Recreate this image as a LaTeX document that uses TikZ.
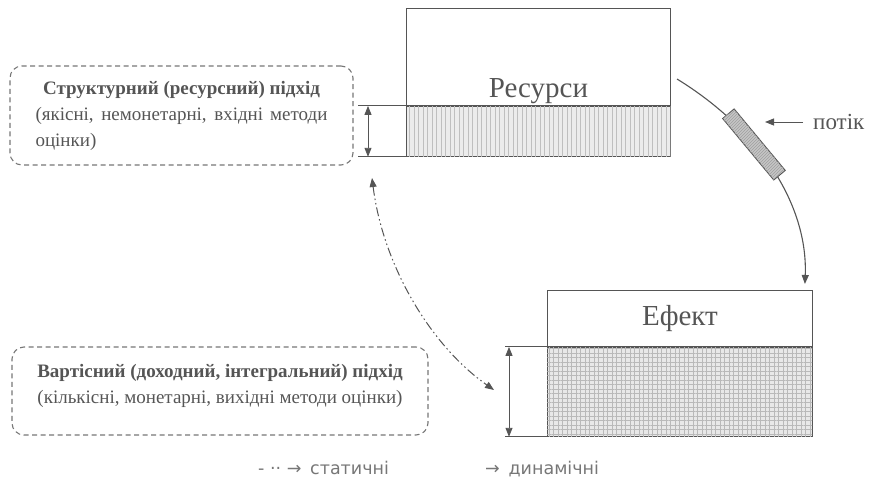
\documentclass[tikz,border=0pt]{standalone}
\usepackage{fontspec}
\setmainfont{Liberation Serif}
\newfontfamily\legendfont{DejaVu Sans}
\usepackage{tikz}
\usetikzlibrary{arrows.meta}
\usetikzlibrary{patterns}
\usetikzlibrary{patterns.meta}
\usetikzlibrary{positioning}
\definecolor{ink}{HTML}{555555}
\definecolor{paleink}{HTML}{777777}

\begin{document}
\begin{tikzpicture}[x=1pt,y=-1pt,
    every node/.style={text=ink},
    box/.style={draw=ink, line width=0.9pt, inner sep=0pt},
    resshade/.style={box, fill=gray!15, postaction={pattern color=gray!50, pattern={Lines[angle=90,distance=4.5pt,line width=0.45pt]}}},
    effshade/.style={box, fill=gray!18, postaction={pattern color=gray!55, pattern={Hatch[angle=0,distance=4.5pt,line width=0.45pt]}}},
    approach/.style={draw=paleink, line width=1.1pt, dash pattern=on 5pt off 3.5pt, rounded corners=12pt, inner sep=0pt},
    thin/.style={draw=ink, line width=0.9pt},
    dimarrow/.style={thin, {Triangle[length=9pt,width=7pt]}-{Triangle[length=9pt,width=7pt]}},
    flow/.style={draw=ink, line width=1.1pt, -{Triangle[length=9pt,width=7pt]}},
    flowbox/.style={draw=ink, line width=0.9pt, fill=gray!45, minimum width=80pt, minimum height=15pt, inner sep=0pt,
        postaction={pattern color=gray!75, pattern=north east lines}},
    static/.style={draw=ink, line width=1pt, dash pattern=on 9pt off 3pt on 1.5pt off 3pt on 1.5pt off 3pt,
        {Triangle[length=9pt,width=7pt]}-{Triangle[length=9pt,width=7pt]}},
    title/.style={font=\fontsize{29}{32}\selectfont},
    legend/.style={font=\legendfont\fontsize{17.5}{20}\selectfont, text=paleink, inner sep=0pt}
]
\useasboundingbox (0,0) rectangle (872,479);

\node[box, minimum width=264pt, minimum height=97pt, anchor=north west] (res) at (406,8) {};
\node[resshade, minimum width=264pt, minimum height=50pt, anchor=north] (resbase) at (res.south) {};
\node[title, anchor=base, inner sep=0pt] (restitle) at ([yshift=8pt]res.south) {Ресурси};

\node[box, minimum width=265pt, minimum height=56pt, anchor=north west] (eff) at (547,290) {};
\node[effshade, minimum width=265pt, minimum height=89pt, anchor=north] (effbase) at (eff.south) {};
\node[title, inner sep=0pt] (efftitle) at (eff.center) {Ефект};

\coordinate (rtop) at ([xshift=-48pt]resbase.north west);
\coordinate (rbot) at ([xshift=-48pt]resbase.south west);
\draw[thin] (rtop) -- (resbase.north west);
\draw[thin] (rbot) -- (resbase.south west);
\draw[dimarrow] ([xshift=10pt]rtop) -- ([xshift=10pt]rbot);

\coordinate (etop) at ([xshift=-42pt]effbase.north west);
\coordinate (ebot) at ([xshift=-42pt]effbase.south west);
\draw[thin] (etop) -- (effbase.north west);
\draw[thin] (ebot) -- (effbase.south west);
\draw[dimarrow] ([xshift=4pt]etop) -- ([xshift=4pt]ebot);

\node[approach, minimum width=343pt, minimum height=99pt, text width=292pt, align=justify,
    font=\fontsize{19}{26}\selectfont] (structural) at (181.5,115.5)
    {{\centering\bfseries Структурний (ресурсний) підхід\par}
     (якісні, немонетарні, вхідні методи\linebreak оцінки)};
\node[approach, minimum width=416pt, minimum height=88pt, align=center, text depth=15pt,
    font=\fontsize{19}{26}\selectfont] (valuation) at (220,391)
    {\textbf{Вартісний (доходний, інтегральний) підхід}\\(кількісні, монетарні, вихідні методи оцінки)};

\coordinate (flowstart) at (677,79);
\coordinate (flowend) at ([xshift=-8pt,yshift=6pt]eff.north east);
\draw[flow] (flowstart) .. controls (760,130) and (808,205) .. node[pos=0.37, sloped, flowbox] (valve) {} (flowend);

\node[anchor=west, inner sep=0pt, font=\fontsize{23}{25}\selectfont] (flowlbl) at (813,122) {потік};
\coordinate (flowtip) at (765,122);
\draw[thin, -{Triangle[length=9pt,width=7pt]}] ([xshift=-10pt]flowlbl.west) -- (flowtip);

\coordinate (statA) at (372,178);
\coordinate (statB) at (494,390);
\draw[static] (statA) .. controls (383,265) and (430,345) .. (statB);

\node[legend, anchor=base west] (legstatic) at (258,474) {- ·· →\enspace статичні};
\node[legend, anchor=base west] (legdynamic) at (485,474) {→\enspace динамічні};
\end{tikzpicture}
\end{document}
